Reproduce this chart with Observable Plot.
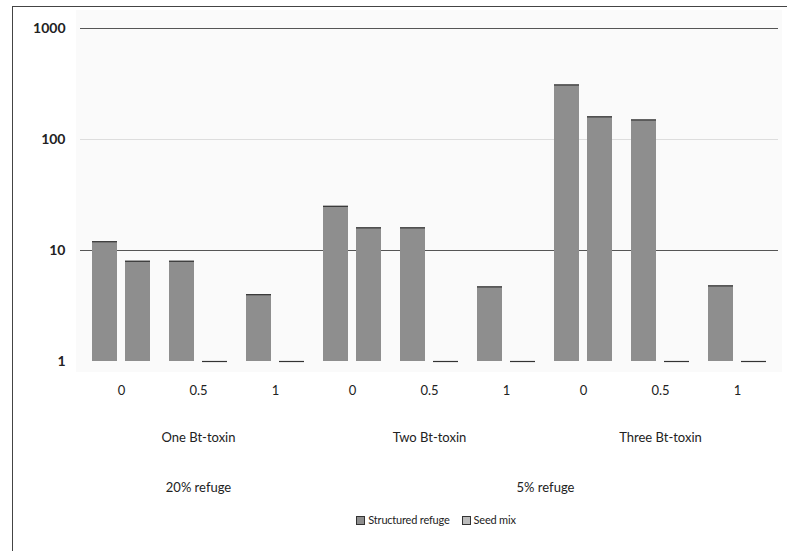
<!DOCTYPE html>
<html>
<head>
<meta charset="utf-8">
<script src="https://cdn.jsdelivr.net/npm/d3@7"></script>
<script src="https://cdn.jsdelivr.net/npm/@observablehq/plot@0.6"></script>
<style>
  body { margin: 0; background: #fff; font-family: Lato, "Open Sans", sans-serif; }
  #wrap { position: relative; width: 787px; height: 551px; overflow: hidden; background: #fff; }
  #frame { position: absolute; left: 12px; top: 6px; width: 780px; height: 550px;
           border-top: 1.5px solid #444; border-left: 1.5px solid #444; pointer-events: none; }
  #panel { position: absolute; left: 76px; top: 10px; width: 706px; height: 362px; background: #fafafa; }
  #chart { position: absolute; left: 0; top: 0; }
  #legend { position: absolute; top: 513px; left: 0; width: 872px; text-align: center;
            font-size: 11px; color: #222; white-space: nowrap; letter-spacing: -0.2px; }
  #legend span.item { margin: 0 6px; }
  #legend span.sw { display: inline-block; width: 7px; height: 7px; margin-right: 3px;
                    vertical-align: -1px; border: 1px solid #333; }
</style>
</head>
<body>
<div id="wrap">
  <div id="panel"></div>
  <div id="chart"></div>
  <div id="frame"></div>
  <div id="legend"></div>
</div>
<script>
// ---- data ----
const groups = ["One Bt-toxin", "Two Bt-toxin", "Three Bt-toxin"];
const doses = ["0", "0.5", "1"];
const seriesNames = ["Structured refuge", "Seed mix"];
const structured = [12, 8, 4, 25, 16, 4.7, 310, 150, 4.8];
const seedMix = [8, 1, 1, 16, 1, 1, 160, 1, 1];
const yTicks = [1, 10, 100, 1000];
const refugeLabels = ["20% refuge", "5% refuge"];

// ---- build table ----
const keys = groups.flatMap(g => doses.map(d => g + "|" + d));
const rows = keys.map((k, i) => ({ key: k, structured: structured[i], seed: seedMix[i] }));
const base = yTicks[0];
const barFill = "#8e8e8e";
const half = 33;

const chart = Plot.plot({
  width: 787,
  height: 500,
  marginLeft: 80,
  marginRight: 9,
  marginTop: 28,
  marginBottom: 139,
  style: { fontFamily: "Lato, 'Open Sans', sans-serif", fontSize: "13px", color: "#222", background: "transparent" },
  x: { domain: keys, paddingInner: 0.25, paddingOuter: 0.125, label: null },
  y: { type: "log", domain: [yTicks[0], yTicks[yTicks.length - 1]], label: null },
  marks: [
    Plot.ruleY([10, 1000], { stroke: "#555", strokeWidth: 1 }),
    Plot.ruleY([100], { stroke: "#ddd", strokeWidth: 1 }),
    Plot.barY(rows, { x: "key", y1: base, y2: "structured", fill: barFill, insetRight: half }),
    Plot.barY(rows, { x: "key", y1: base, y2: "seed", fill: barFill, insetLeft: half }),
    Plot.tickY(rows, { x: "key", y: "structured", stroke: "#333", strokeWidth: 1.2, insetRight: half }),
    Plot.tickY(rows, { x: "key", y: "seed", stroke: "#333", strokeWidth: 1.2, insetLeft: half }),
    Plot.axisY(yTicks, { tickSize: 0, tickPadding: 15, tickFormat: d => String(d), fontSize: 14, fontWeight: "bold", label: null }),
    Plot.axisX({ tickSize: 0, tickPadding: 24, tickFormat: k => k.split("|")[1], fontSize: 13, label: null }),
    Plot.text(groups, { x: g => g + "|0.5", y: () => base, dy: 76, text: d => d, fontSize: 13 }),
    Plot.text([refugeLabels[0]], { x: () => groups[0] + "|0.5", y: () => base, dy: 126, text: d => d, fontSize: 13 }),
    Plot.text([refugeLabels[1]], { x: () => groups[1] + "|1", y: () => base, dy: 126, dx: 39, text: d => d, fontSize: 13 })
  ]
});
document.getElementById("chart").appendChild(chart);

// legend
const legend = document.getElementById("legend");
seriesNames.forEach((name, i) => {
  const item = document.createElement("span");
  item.className = "item";
  const sw = document.createElement("span");
  sw.className = "sw";
  sw.style.background = i === 0 ? barFill : "#bbb";
  item.appendChild(sw);
  item.appendChild(document.createTextNode(name));
  legend.appendChild(item);
});
</script>
</body>
</html>
